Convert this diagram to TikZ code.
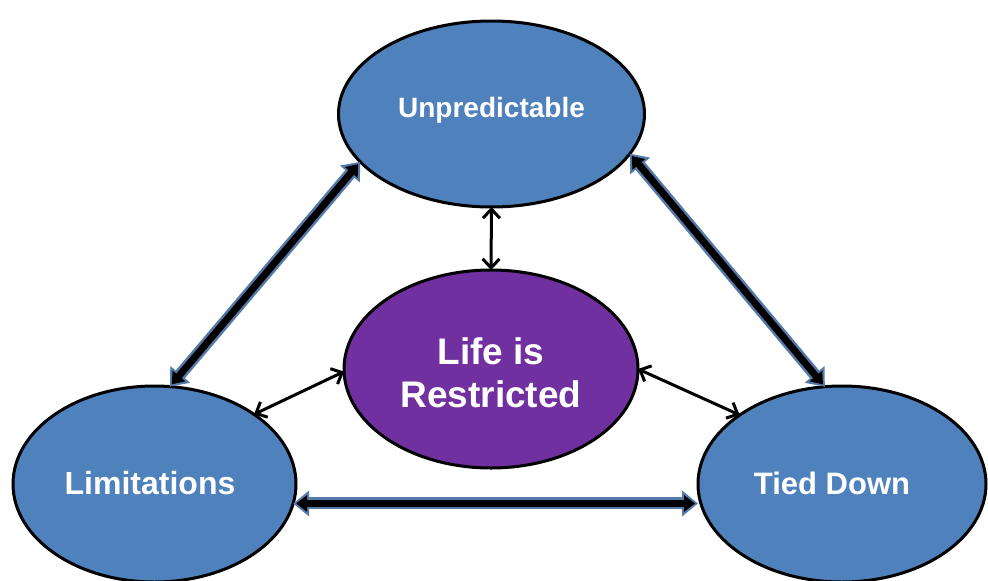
\documentclass[tikz,border=0pt]{standalone}
\usepackage{fontspec}
\setmainfont{Liberation Sans}
\usetikzlibrary{arrows.meta,shapes.geometric}
\definecolor{nodeblue}{RGB}{79,129,189}
\definecolor{nodepurple}{RGB}{112,48,160}
\definecolor{arrowblue}{RGB}{84,122,170}
\begin{document}
\begin{tikzpicture}[x=1pt,y=-1pt,
  oval/.style={ellipse, draw=black, line width=3pt, inner sep=0pt, outer sep=0pt},
  lbl/.style={text=white, align=center, inner sep=0pt},
  thickouter/.style={line width=12pt, draw=arrowblue, {Triangle[length=16pt,width=25pt]}-{Triangle[length=16pt,width=25pt]}},
  thickinner/.style={line width=7pt, draw=black, shorten <=3pt, shorten >=3pt, {Triangle[length=11pt,width=16pt]}-{Triangle[length=11pt,width=16pt]}},
  thin/.style={line width=3pt, draw=black, {Straight Barb[length=9pt,width=17pt]}-{Straight Barb[length=9pt,width=17pt]}}
]
\useasboundingbox (0,0) rectangle (988,581);
\fill[white] (0,0) rectangle (988,581);

\node[oval, fill=nodeblue, minimum width=306pt, minimum height=186pt] (U) at (491.5,114) {};
\node[oval, fill=nodepurple, minimum width=294pt, minimum height=198pt] (C) at (491,369) {};
\node[oval, fill=nodeblue, minimum width=283pt, minimum height=196pt] (L) at (154.5,484) {};
\node[oval, fill=nodeblue, minimum width=288pt, minimum height=196pt] (T) at (842,484) {};

\node[lbl, font=\bfseries\fontsize{28}{34}\selectfont] (Ut) at (491.5,110) {Unpredictable};
\node[lbl, font=\bfseries\fontsize{37}{43}\selectfont] (Ct) at (491,373) {Life is\\Restricted};
\node[lbl, font=\bfseries\fontsize{32}{38}\selectfont] (Lt) at (150,483) {Limitations};
\node[lbl, font=\bfseries\fontsize{31}{37}\selectfont] (Tt) at (832,483) {Tied Down};

\draw[thickouter] (L.81.5) -- (U.200.7);
\draw[thickinner] (L.81.5) -- (U.200.7);
\draw[thickouter] (T.100.4) -- (U.344.5);
\draw[thickinner] (T.100.4) -- (U.344.5);
\draw[thickouter] (L.352.3) -- (L.352.3 -| T.west);
\draw[thickinner] (L.352.3) -- (L.352.3 -| T.west);

\draw[thin] (U.south) -- (C.north);
\draw[thin] (L.35) -- (C.181);
\draw[thin] (T.146.4) -- (C.0);
\end{tikzpicture}
\end{document}
